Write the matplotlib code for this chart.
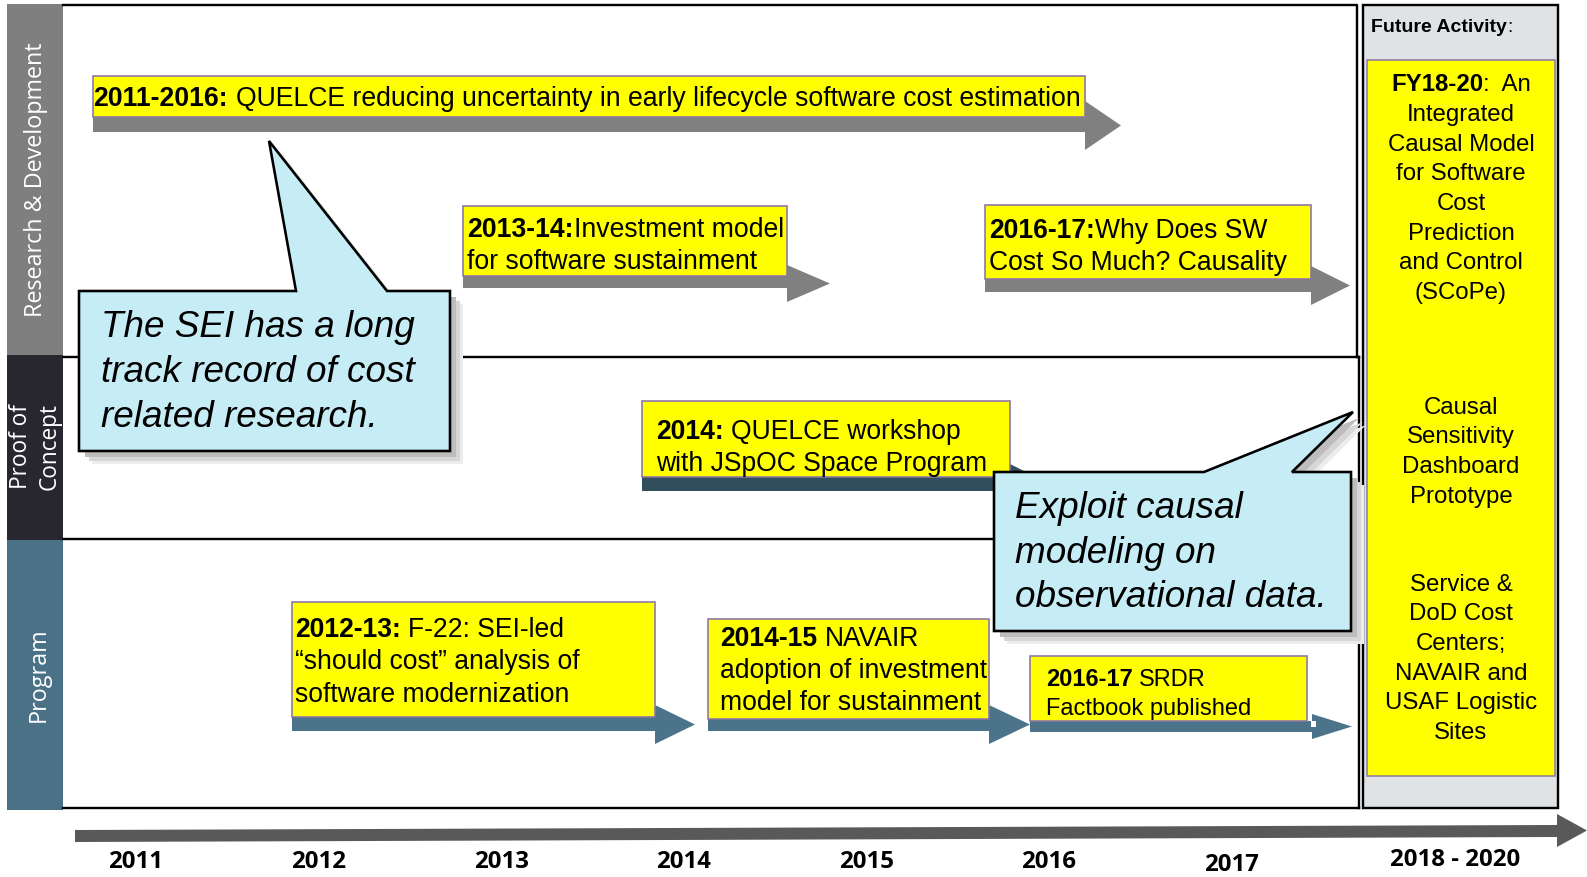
"""
SEI cost-research timeline: three swim lanes (R&D / Proof of Concept /
Program), event boxes riding on block arrows, two call-outs and a
future-activity column, drawn in a pixel-space axes.
"""
import matplotlib
matplotlib.use("Agg")
import matplotlib.pyplot as plt
from matplotlib.patches import Polygon, Rectangle

W, H = 1587, 877
SANS = ["Liberation Sans", "DejaVu Sans"]
LANE_FONT = ["Open Sans", "DejaVu Sans"]

# ---- content ----
LANES = ["Research & Development", "Proof of\nConcept", "Program"]
LANE_COLORS = ["#7f7f7f", "#28272f", "#4b7187"]

YEARS = [2011, 2012, 2013, 2014, 2015, 2016, 2017]
YEAR_LABELS = ["2011", "2012", "2013", "2014", "2015", "2016", "2017"]
FUTURE_LABEL = "2018 - 2020"

EVENT_HEADS = ["2011-2016:", "2013-14:", "2016-17:", "2014:",
               "2012-13:", "2014-15", "2016-17"]
EVENT_FIRST = ["QUELCE reducing uncertainty in early lifecycle software cost estimation",
               "Investment model", "Why Does SW", "QUELCE workshop",
               "F-22: SEI-led", "NAVAIR", "SRDR"]
EVENT_REST = [[], ["for software sustainment"], ["Cost So Much? Causality"],
              ["with JSpOC Space Program"],
              ["\u201cshould cost\u201d analysis of", "software modernization"],
              ["adoption of investment", "model for sustainment"],
              ["Factbook published"]]
EVENT_SPACE = [True, False, False, True, True, True, True]

CALLOUTS = [["The SEI has a long", "track record of cost", "related research."],
            ["Exploit causal", "modeling on", "observational data."]]

FUTURE_HEAD = "FY18-20"
FUTURE_GROUPS = [[":  An", "Integrated", "Causal Model", "for Software", "Cost",
                  "Prediction", "and Control", "(SCoPe)"],
                 ["Causal", "Sensitivity", "Dashboard", "Prototype"],
                 ["Service &", "DoD Cost", "Centers;", "NAVAIR and",
                  "USAF Logistic", "Sites"]]

# ---- layout (pixels) ----
EV_BOX = [(93, 76, 1085, 117), (463, 206, 787, 276), (985, 205, 1311, 279),
          (642, 401, 1010, 477), (292, 602, 655, 717), (708, 619, 989, 719),
          (1030, 656, 1307, 721)]
EV_SHAFT = [(117, 132), (276, 288), (279, 292), (477, 491), (717, 731),
            (719, 731), (721, 732)]
EV_HEAD = [(1085, 101, 150, 1121), (787, 265, 302, 830), (1311, 266, 305, 1350),
           (1010, 464, 504, 1050), (655, 705, 744, 695), (989, 705, 744, 1030),
           (1312, 714, 739, 1352)]
EV_TEXT_X = [93.5, 467, 989, 656, 295, 720, 1046]
EV_TEXT_Y = [96, 227, 228, 429, 627, 636, 678]
EV_LINE = [0, 32, 32.5, 32.5, 32.5, 32, 29]
EV_SIZE = [19.18, 19.2, 19.1, 19.1, 19.1, 19.1, 17]
EV_COLOR = ["#808080", "#808080", "#808080", "#314e5d", "#4b7389", "#4b7389", "#4b7389"]

CALLOUT_POLY = [[(79, 291), (296, 291), (269, 141), (387, 291), (450, 291),
                 (450, 451), (79, 451)],
                [(994, 472), (1204, 472), (1353, 412), (1292, 472), (1351, 472),
                 (1351, 631), (994, 631)]]
CALLOUT_TEXT = [(101, 324, 45), (1015, 505, 44.5)]
CALLOUT_SIZE = 26.6


def px(v):
    return v * 72.0 / 100.0


fig = plt.figure(figsize=(W / 100, H / 100), dpi=100)
fig.patch.set_facecolor("white")
ax = fig.add_axes([0, 0, 1, 1])
ax.set_xlim(0, W)
ax.set_ylim(H, 0)
ax.axis("off")
renderer = fig.canvas.get_renderer()


def rich_line(x, y, parts, size, gap, z=5):
    """parts: list of (text, weight); y is the visual centre of the caps."""
    base = y + 0.36 * size * 100 / 72
    inv = ax.transData.inverted()
    for i, (txt, wt) in enumerate(parts):
        t = ax.text(x, base, txt, fontsize=size, fontweight=wt, family=SANS,
                    ha="left", va="baseline", color="black", zorder=z)
        bb = t.get_window_extent(renderer=renderer)
        x = inv.transform((bb.x1, bb.y0))[0] + (gap if i == 0 else 0)


# swim-lane labels
lane_y = [(4, 355), (355, 540), (540, 810)]
lane_text_y = [180, 447, 675]
lane_text_x = [36, 35, 39]
lane_size = [16.8, 16.3, 16.8]
for (y0, y1), col, lab, ty, tx, fs in zip(lane_y, LANE_COLORS, LANES, lane_text_y,
                                          lane_text_x, lane_size):
    ax.add_patch(Rectangle((7, y0), 56, y1 - y0, facecolor=col, edgecolor="none", zorder=1))
    ax.text(tx, ty, lab, rotation=90, ha="center", va="center", color="white",
            fontsize=fs, family=LANE_FONT, linespacing=1.25, zorder=2)

# lane frames
lw = px(2.4)
ax.plot([63, 1357, 1357], [5, 5, 357], color="black", lw=lw, zorder=2, solid_capstyle="projecting")
for yy in (357, 539, 808):
    ax.plot([63, 1359], [yy, yy], color="black", lw=lw, zorder=2)
ax.plot([1359, 1359], [357, 808], color="black", lw=lw, zorder=2)

# future column
ax.add_patch(Rectangle((1363, 5), 195, 803, facecolor="#e0e3e5", edgecolor="black",
                       lw=lw, zorder=2))
ax.add_patch(Rectangle((1367, 60), 188, 716, facecolor="#ffff00", edgecolor="#8a74a8",
                       lw=px(1.5), zorder=3))
rich_line(1371, 25, [("Future Activity", "bold"), (":", "normal")], 14, 0)

fut_size = 17.3
fut_step = 29.7
fut_start = [82.5, 405, 582]
for g, (lines, y0) in enumerate(zip(FUTURE_GROUPS, fut_start)):
    for k, line in enumerate(lines):
        yy = y0 + k * fut_step
        base = yy + 0.36 * fut_size * 100 / 72
        if g == 0 and k == 0:
            t1 = ax.text(0, base, FUTURE_HEAD, fontsize=fut_size, fontweight="bold",
                         family=SANS, va="baseline", ha="left", zorder=5)
            t2 = ax.text(0, base, line, fontsize=fut_size, family=SANS,
                         va="baseline", ha="left", zorder=5)
            w1 = t1.get_window_extent(renderer=renderer).width
            w2 = t2.get_window_extent(renderer=renderer).width
            x0 = 1461 - (w1 + w2) / 2
            t1.set_x(x0)
            t2.set_x(x0 + w1)
        else:
            ax.text(1461, base, line, fontsize=fut_size, family=SANS,
                    ha="center", va="baseline", zorder=5)

# timeline arrow
ax.add_patch(Polygon([(75, 830), (1557, 825), (1557, 814), (1587, 830.5),
                      (1557, 847), (1557, 837), (75, 842)],
                     closed=True, facecolor="#595959", edgecolor="none", zorder=2))


def year_x(y):
    return 136 + (y - 2011) * 182.6


for yr, lab in zip(YEARS, YEAR_LABELS):
    ax.text(year_x(yr), 865 if yr == 2017 else 861.5, lab, ha="center", va="center",
            fontsize=17.3, fontweight="bold", family=LANE_FONT, zorder=3)
ax.text(1455, 860, FUTURE_LABEL, ha="center", va="center", fontsize=17.3,
        fontweight="bold", family=LANE_FONT, zorder=3)

# events
for i in range(len(EVENT_HEADS)):
    bx0, by0, bx1, by1 = EV_BOX[i]
    s0, s1 = EV_SHAFT[i]
    hx, h0, h1, tip = EV_HEAD[i]
    arrow = [(bx0, s0), (hx, s0), (hx, h0), (tip, (h0 + h1) / 2), (hx, h1),
             (hx, s1), (bx0, s1)]
    ax.add_patch(Polygon(arrow, closed=True, facecolor=EV_COLOR[i], edgecolor="none",
                         zorder=3))
    ax.add_patch(Rectangle((bx0, by0), bx1 - bx0, by1 - by0, facecolor="#ffff00",
                           edgecolor="#8a74a8", lw=px(1.6), zorder=4))
    fs = EV_SIZE[i]
    gap = 0.278 * fs * 100 / 72 if EVENT_SPACE[i] else 0
    rich_line(EV_TEXT_X[i], EV_TEXT_Y[i],
              [(EVENT_HEADS[i], "bold"), (EVENT_FIRST[i], "normal")], fs, gap)
    for k, line in enumerate(EVENT_REST[i]):
        rich_line(EV_TEXT_X[i], EV_TEXT_Y[i] + (k + 1) * EV_LINE[i],
                  [(line, "normal")], fs, 0)

# small white marker on the SRDR arrow
ax.add_patch(Rectangle((1311, 721), 5, 6, facecolor="white", edgecolor="none", zorder=4))

# call-outs with soft drop shadow
for poly, lines, (tx, ty, step) in zip(CALLOUT_POLY, CALLOUTS, CALLOUT_TEXT):
    for off, col in ((13, "#ececec"), (10, "#d6d6d6"), (6, "#bdbdbd")):
        ax.add_patch(Polygon([(x + off, y + off) for x, y in poly], closed=True,
                             facecolor=col, edgecolor="none", zorder=6))
    ax.add_patch(Polygon(poly, closed=True, facecolor="#c6edf5", edgecolor="black",
                         lw=px(2.6), joinstyle="miter", zorder=7))
    for k, line in enumerate(lines):
        base = ty + k * step + 0.36 * CALLOUT_SIZE * 100 / 72
        ax.text(tx, base, line, fontsize=CALLOUT_SIZE, style="italic", family=SANS,
                ha="left", va="baseline", zorder=8)

fig.savefig("out.png", dpi=100, facecolor="white")
